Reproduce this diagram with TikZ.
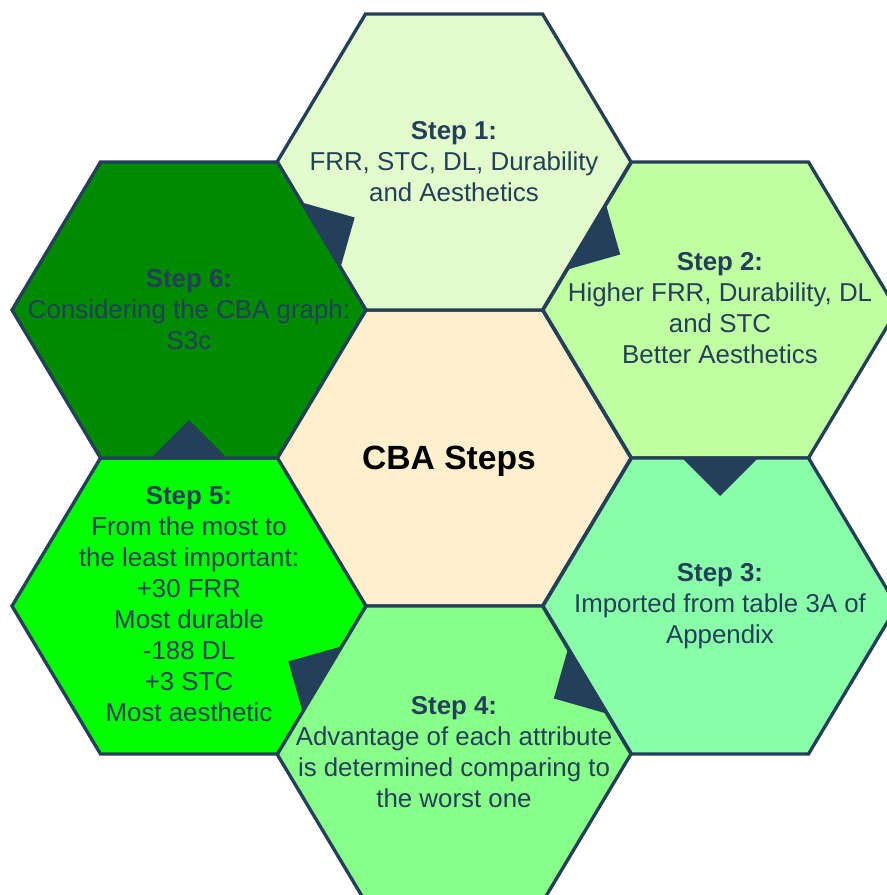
\documentclass[tikz,border=0pt]{standalone}
\usepackage{fontspec}
\setmainfont{Liberation Sans}
\usetikzlibrary{calc}
\definecolor{edgeblue}{HTML}{243F5A}
\definecolor{fillone}{HTML}{E2FCCB}
\definecolor{filltwo}{HTML}{C0FFA2}
\definecolor{fillthree}{HTML}{88FFA8}
\definecolor{fillfour}{HTML}{88FF88}
\definecolor{fillfive}{HTML}{00FF00}
\definecolor{fillsix}{HTML}{008A00}
\definecolor{fillcore}{HTML}{FFF0CD}

% flat-topped hexagon around a named centre
\newcommand\hexcell[2]{%
  \path[hexcell,fill=#2] ($(#1)+(-177,0)$) -- ++(88.5,-148) -- ++(177,0)
    -- ++(88.5,148) -- ++(-88.5,148) -- ++(-177,0) -- cycle;}
% triangular pointer on the shared edge of two cells, aimed at the second
\newcommand\pointer[2]{%
  \coordinate (mid) at ($(#1)!0.5!(#2)$);
  \fill[pointerfill] ($(mid)!28.5pt!90:(#2)$) -- ($(mid)!28.5pt!(#2)$)
    -- ($(mid)!28.5pt!-90:(#2)$) -- cycle;}

\begin{document}
\begin{tikzpicture}[x=0.75pt,y=-0.75pt,
  hexcell/.style={draw=edgeblue,line width=2.5pt,line join=miter},
  pointerfill/.style={fill=edgeblue},
  steptext/.style={text=edgeblue,align=center,inner sep=0pt,
    font=\fontsize{19.4}{23.25}\selectfont}]
\useasboundingbox (0,0) rectangle (887,895);
\clip (0,0) rectangle (887,895);

% cell centres
\coordinate (c0) at (454,458);
\coordinate (c1) at (454,162);
\coordinate (c2) at (720,310);
\coordinate (c3) at (720,606);
\coordinate (c4) at (454,754);
\coordinate (c5) at (189,606);
\coordinate (c6) at (189,310);

\hexcell{c0}{fillcore}
\hexcell{c1}{fillone}
\hexcell{c2}{filltwo}
\hexcell{c3}{fillthree}
\hexcell{c4}{fillfour}
\hexcell{c5}{fillfive}
\hexcell{c6}{fillsix}

\pointer{c1}{c2}
\pointer{c2}{c3}
\pointer{c3}{c4}
\pointer{c4}{c5}
\pointer{c5}{c6}
\pointer{c6}{c1}

\node[font=\fontsize{25.2}{30}\selectfont\bfseries] (core) at (449,461) {CBA Steps};
\node[steptext] (s1) at (c1) {\textbf{Step 1:}\\FRR, STC, DL, Durability\\and Aesthetics};
\node[steptext] (s2) at ($(c2)+(0,-2)$) {\textbf{Step 2:}\\Higher FRR, Durability, DL\\and STC\\Better Aesthetics};
\node[steptext] (s3) at (c3) {\textbf{Step 3:}\\Imported from table 3A of\\Appendix};
\node[steptext] (s4) at ($(c4)+(0,-2)$) {\textbf{Step 4:}\\Advantage of each attribute\\is determined comparing to\\the worst one};
\node[steptext] (s5) at ($(c5)+(0,-2)$) {\textbf{Step 5:}\\From the most to\\the least important:\\+30 FRR\\Most durable\\-188 DL\\+3 STC\\Most aesthetic};
\node[steptext] (s6) at (c6) {\textbf{Step 6:}\\Considering the CBA graph:\\S3c};
\end{tikzpicture}
\end{document}
